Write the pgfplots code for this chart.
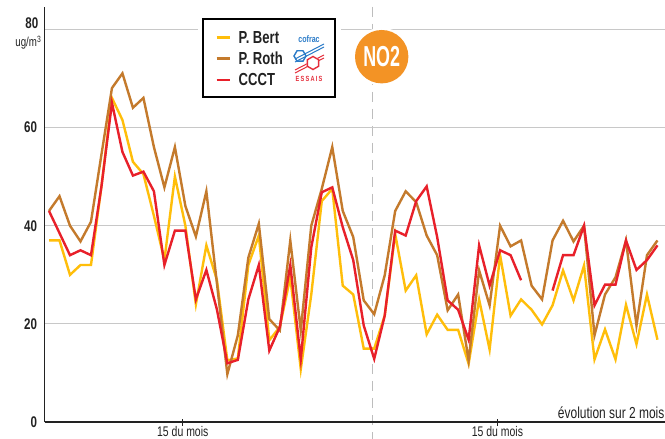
\documentclass[border=0pt]{standalone}
\usepackage{pgfplots}
\pgfplotsset{compat=1.18}
\usepackage{fontspec}
\setmainfont{Liberation Sans}[FakeStretch=0.75]
\newfontfamily\badgefont{Liberation Sans}[FakeStretch=0.62]
\definecolor{cBert}{HTML}{FFBE0A}
\definecolor{cRoth}{HTML}{C47A2C}
\definecolor{cCCCT}{HTML}{E8202A}
\definecolor{cOrange}{HTML}{F39325}
\definecolor{cGrid}{HTML}{C8C8C8}
\definecolor{cDash}{HTML}{BDBDBD}
\definecolor{cTxt}{HTML}{222222}
\definecolor{cBlue}{HTML}{2A7BC8}
\definecolor{cLogoRed}{HTML}{E52D3A}
\begin{document}
\begin{tikzpicture}[x=1bp,y=1bp]
\useasboundingbox (0,0) rectangle (665,439);
\fill[white] (0,0) rectangle (665,439);
% dashed separator
\draw[cDash, line width=1.3bp, dash pattern=on 10bp off 7bp] (372.3,432) -- (372.3,0);
\begin{axis}[
  at={(44.5bp,16.7bp)}, anchor=south west,
  scale only axis, width=620.5bp, height=415.3bp,
  xmin=-0.43, xmax=58.72, ymin=0, ymax=84.5,
  axis x line=bottom, axis y line=left,
  axis line style={cTxt, line width=1.6bp, -},
  ytick={0,20,40,60,80}, yticklabels={0,20,40,60,{}},
  xtick={12.75,42.75}, xticklabels={15 du mois,15 du mois},
  ymajorgrids, grid style={cGrid, line width=1bp},
  ytick style={draw=none},
  xtick style={cTxt, line width=1.3bp},
  tick align=center, major tick length=7bp,
  /pgf/number format/assume math mode=true,
  yticklabel style={font=\bfseries\fontsize{15.5}{15.5}\selectfont, text=cTxt, xshift=-0.5bp},
  xticklabel style={font=\fontsize{14}{14}\selectfont, text=cTxt, yshift=2.5bp},
  unbounded coords=jump,
  clip=false,
]
\addplot[cBert, line width=2.4bp, line join=miter] coordinates {
(0,37)(1,37)(2,30)(3,32)(4,32)(5,48)(6,66)(7,61.5)(8,53)(9,50.5)(10,42)(11,33)(12,50)(13,40)(14,24)(15,36)(16,29)(17,12.6)(18,13)(19,32)(20,38)(21,16.7)(22,19.4)(23,29.5)(24,10.8)(25,26)(26,45)(27,47.5)(28,27.8)(29,26)(30,15)(31,15)(32,21.7)(33,38.3)(34,26.8)(35,29.9)(36,17.9)(37,21.9)(38,18.8)(39,18.8)(40,11.9)(41,25)(42,14.8)(43,34)(44,21.7)(45,25)(46,22.9)(47,19.9)(48,23.8)(49,30.9)(50,24.8)(51,31.9)(52,12.8)(53,18.9)(54,12.8)(55,23.9)(56,15.9)(57,26)(58,16.8)
};
\addplot[cRoth, line width=2.4bp, line join=miter] coordinates {
(0,43)(1,46)(2,40)(3,36.8)(4,40.8)(5,54.5)(6,68)(7,71)(8,64)(9,66)(10,56)(11,47.8)(12,56)(13,44)(14,37.8)(15,47)(16,28.4)(17,9.8)(18,17.7)(19,33.5)(20,40.4)(21,21)(22,18.7)(23,37)(24,18.7)(25,40)(26,47.5)(27,56)(28,43)(29,37.7)(30,24.8)(31,22)(32,29.9)(33,43)(34,47)(35,44.8)(36,38)(37,34)(38,22.8)(39,26)(40,12.6)(41,30.9)(42,23.8)(43,40)(44,35.8)(45,37)(46,27.8)(47,25)(48,37)(49,41)(50,36.8)(51,40)(52,17.7)(53,26)(54,29.5)(55,37)(56,19.7)(57,34)(58,37)
};
\addplot[cCCCT, line width=2.4bp, line join=miter] coordinates {
(0,43)(1,38.5)(2,34)(3,35)(4,34)(5,48)(6,65)(7,55)(8,50.2)(9,51)(10,47)(11,32)(12,39)(13,39)(14,25)(15,31)(16,23)(17,12)(18,12.7)(19,25)(20,32)(21,14.6)(22,19.4)(23,32)(24,12.8)(25,35.6)(26,46.8)(27,47.8)(28,39.7)(29,33)(30,19.7)(31,12.9)(32,21.7)(33,39)(34,38)(35,45)(36,48)(37,37.7)(38,24.8)(39,22.9)(40,16.8)(41,36)(42,27.8)(43,35)(44,34)(45,28.9)(46,nan)(47,nan)(48,26.8)(49,34)(50,34)(51,40)(52,23.8)(53,28)(54,28)(55,37)(56,31)(57,33)(58,36)
};
\end{axis}
% 80 label and unit
\node[anchor=south east, inner sep=0pt, font=\bfseries\fontsize{15.5}{15.5}\selectfont, text=cTxt] at (38.5,410) {80};
\node[anchor=east, inner sep=0pt, font=\fontsize{13}{13}\selectfont, text=cTxt] at (41.5,396.5) {ug/m\textsuperscript{3}};
% evolution text
\node[anchor=east, inner sep=0pt, font=\fontsize{16}{16}\selectfont, text=cTxt] at (664.5,26) {évolution sur 2 mois};
% legend
\fill[white] (198,336) rectangle (341,425);
\draw[black, line width=2bp] (203,342) rectangle (335,420);
\draw[cBert, line width=2.4bp] (216.5,401.3) -- (230,401.3);
\draw[cRoth, line width=2.4bp] (216.5,380.3) -- (230,380.3);
\draw[cCCCT, line width=2.4bp] (216.5,359) -- (230,359);
\node[anchor=west, inner sep=0pt, font=\bfseries\fontsize{17.5}{17.5}\selectfont, text=cTxt] at (238.5,401.3) {P. Bert};
\node[anchor=west, inner sep=0pt, font=\bfseries\fontsize{17.5}{17.5}\selectfont, text=cTxt] at (238.5,380.3) {P. Roth};
\node[anchor=west, inner sep=0pt, font=\bfseries\fontsize{17.5}{17.5}\selectfont, text=cTxt] at (238.5,359) {CCCT};
% cofrac logo
\node[inner sep=0pt, font=\bfseries\fontsize{9.5}{9.5}\selectfont, text=cBlue] at (309,400) {cofrac};
\draw[cBlue, line width=1.4bp] (300,383) ++(0:6) -- ++(120:6) -- ++(180:6) -- ++(240:6) -- ++(300:6) -- ++(0:6) -- cycle;
\draw[cBlue, line width=1bp] (295,377) -- (324,392);
\draw[cBlue, line width=1bp] (295,380) -- (324,395);
\draw[cLogoRed, line width=1bp] (295,366) -- (324,381);
\draw[cLogoRed, line width=1bp] (295,369) -- (324,384);
\fill[white] (313,376) circle (6.5);
\draw[cLogoRed, line width=1.4bp] (313,376) ++(30:6.5) -- ++(150:6.5) -- ++(210:6.5) -- ++(270:6.5) -- ++(330:6.5) -- ++(30:6.5) -- cycle;
\node[inner sep=0pt, font=\bfseries\fontsize{7.5}{7.5}\selectfont, text=cLogoRed] at (309,360) {E\,S\,S\,A\,I\,S};
% NO2 badge
\fill[white] (381.7,382.3) circle (29);
\fill[cOrange] (381.7,382.3) circle (26.7);
\node[inner sep=0pt, font=\badgefont\bfseries\fontsize{29}{29}\selectfont, text=white] at (381.7,382.3) {NO2};
\end{tikzpicture}
\end{document}
